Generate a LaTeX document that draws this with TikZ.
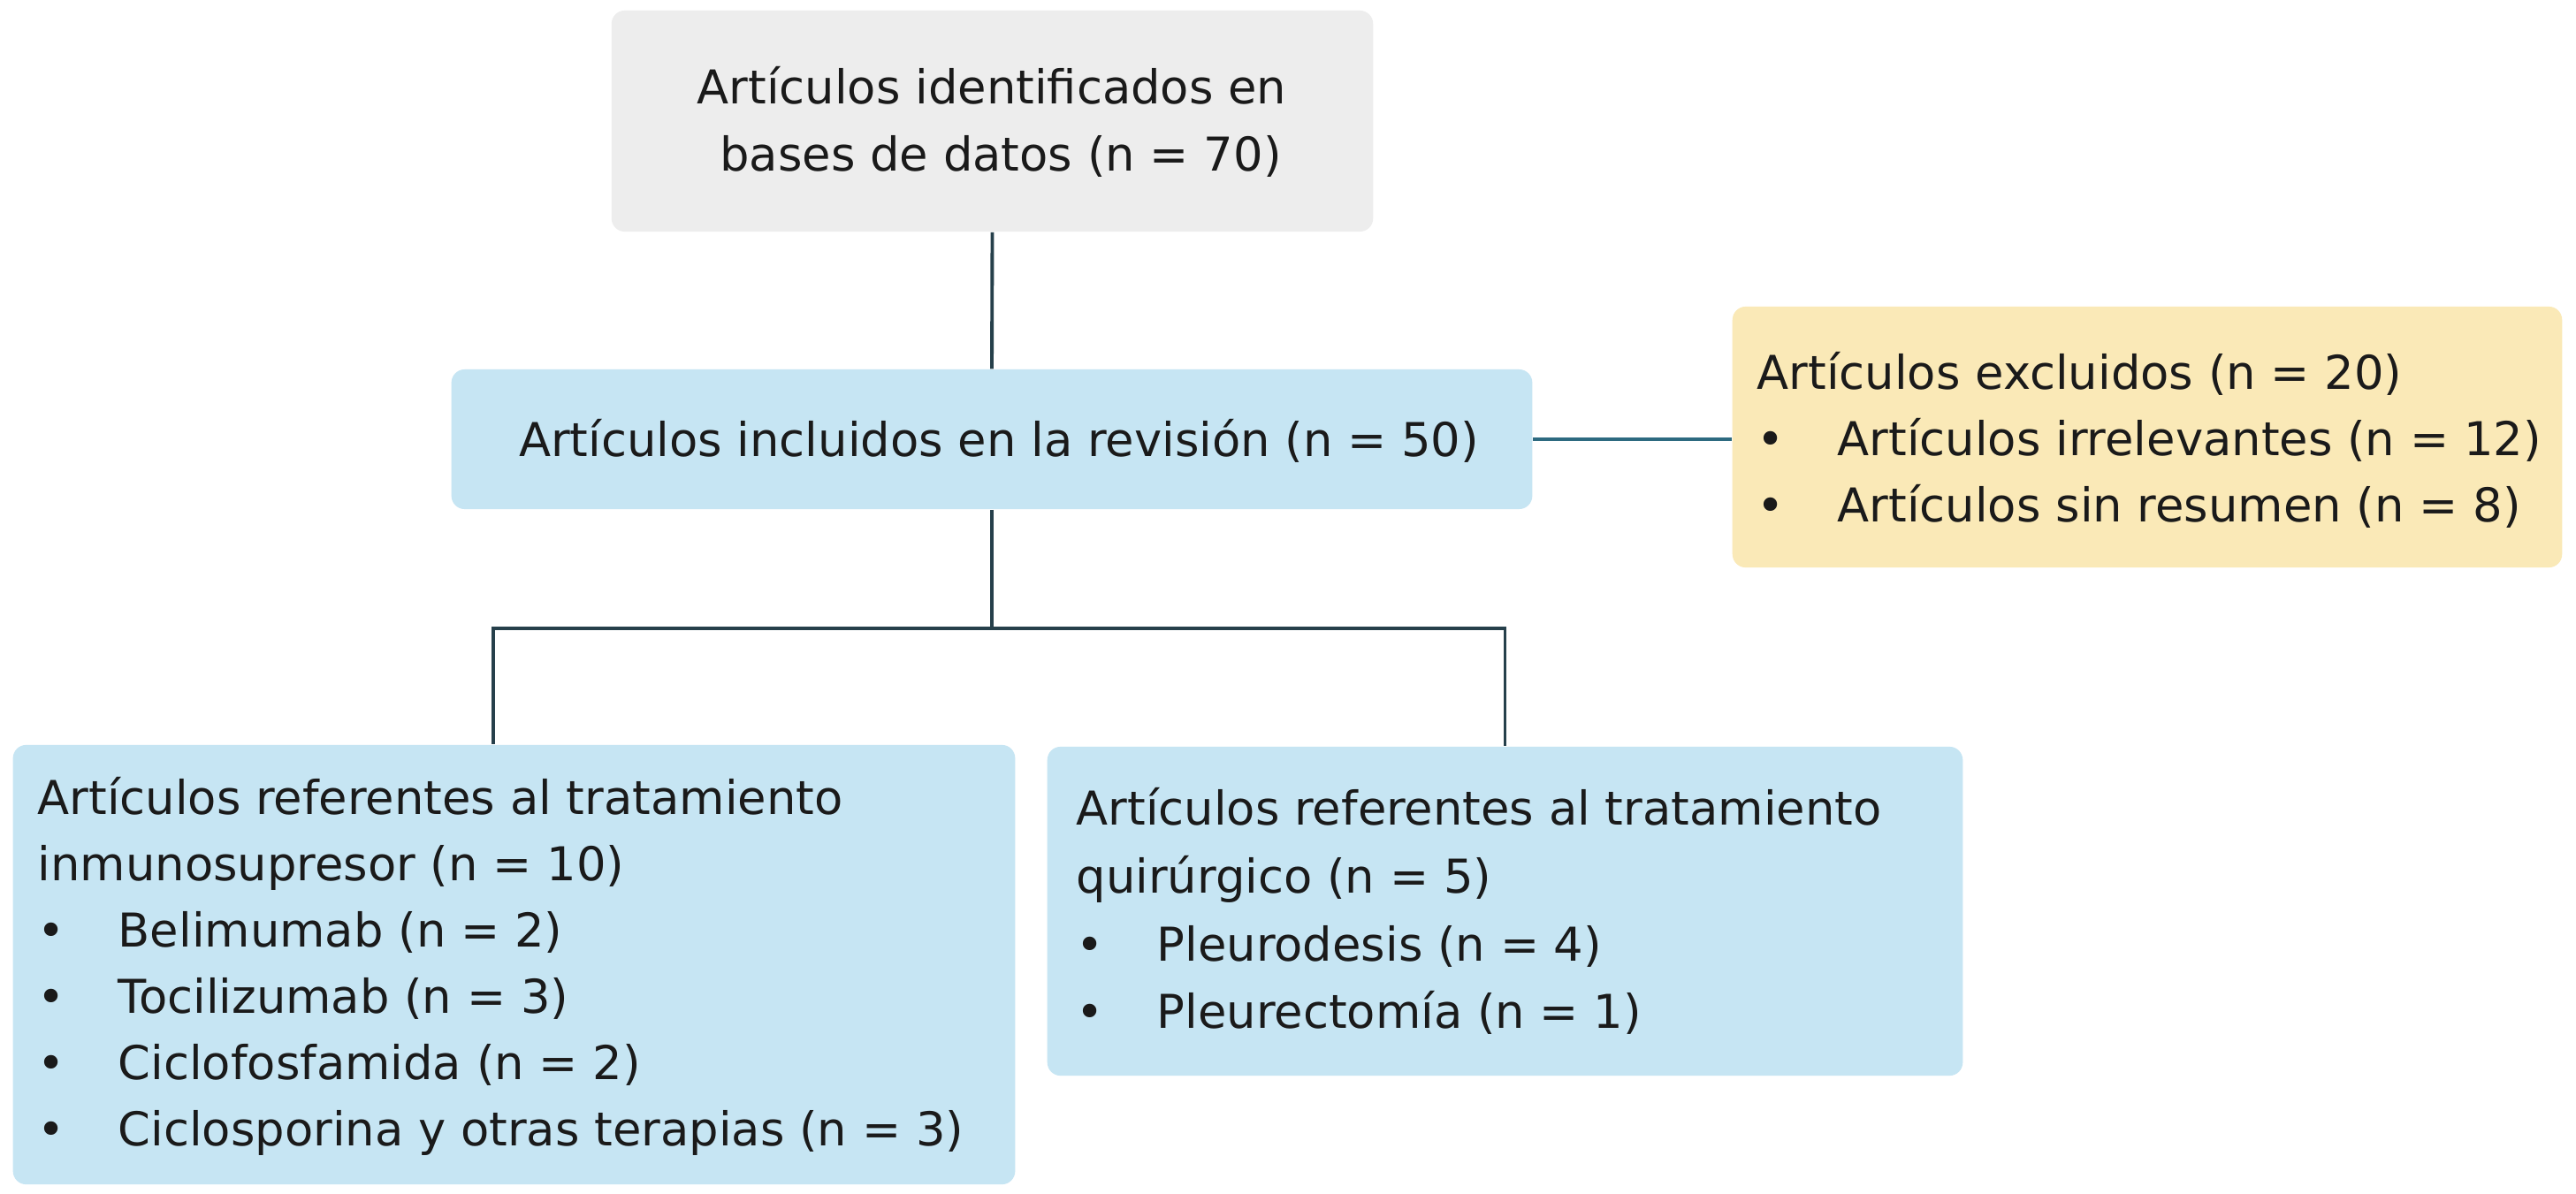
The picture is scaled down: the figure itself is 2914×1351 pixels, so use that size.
\documentclass[tikz,border=0pt]{standalone}
\usepackage{fontspec}
\setmainfont{DejaVu Sans}
\definecolor{grayf}{HTML}{EDEDED}
\definecolor{bluef}{HTML}{C6E5F3}
\definecolor{yelf}{HTML}{FAE9B7}
\definecolor{lc}{HTML}{26404B}
\definecolor{lc2}{HTML}{2D6A80}
\definecolor{ink}{HTML}{1A1A1A}
\newcommand\bul{\makebox[0.91cm][l]{•}}
\begin{document}
\begin{tikzpicture}[x=0.01cm, y=-0.01cm,
  box/.style={rectangle, rounded corners=0.15cm, inner sep=0pt, draw=none},
  txt/.style={inner sep=0pt, text=ink, font=\fontsize{15}{18}\selectfont},
  conn/.style={draw=lc, line width=1.1pt},
  conn2/.style={draw=lc2, line width=1.2pt}]
\useasboundingbox[fill=white] (0,0) rectangle (2914,1351);
% boxes
\node[box, fill=grayf, minimum width=8.61cm, minimum height=2.5cm] (top) at (1122.5,137) {};
\node[box, fill=bluef, minimum width=12.22cm, minimum height=1.58cm] (inc) at (1122,497) {};
\node[box, fill=yelf, minimum width=9.38cm, minimum height=2.95cm] (exc) at (2429,494.5) {};
\node[box, fill=bluef, minimum width=11.33cm, minimum height=4.97cm] (lft) at (581.5,1091.5) {};
\node[box, fill=bluef, minimum width=10.35cm, minimum height=3.72cm] (rgt) at (1702.5,1031) {};
% connectors
\draw[conn] (top.south) -- (inc.north);
\draw[conn2] (inc.east) -- (inc.east -| exc.west);
\coordinate (j) at ([yshift=-1.34cm]inc.south);
\draw[conn] (inc.south) -- (j);
\draw[conn] ([xshift=-0.235cm]lft.north) |- (j) -| (rgt.north);
% texts
\node[txt, anchor=base] (t1) at (1122,117) {Artículos identificados en};
\node[txt, anchor=base] (t2) at (1132,193) {bases de datos (n = 70)};
\node[txt, anchor=base] (i1) at (1130,516) {Artículos incluidos en la revisión (n = 50)};
\node[txt, anchor=base west] (e1) at (1987,440) {Artículos excluidos (n = 20)};
\node[txt, anchor=base west] (e2) at (1987,515) {\bul Artículos irrelevantes (n = 12)};
\node[txt, anchor=base west] (e3) at (1987,590) {\bul Artículos sin resumen (n = 8)};
\node[txt, anchor=base west] (l1) at (42,921) {Artículos referentes al tratamiento};
\node[txt, anchor=base west] (l2) at (42,996) {inmunosupresor (n = 10)};
\node[txt, anchor=base west] (l3) at (42,1071) {\bul Belimumab (n = 2)};
\node[txt, anchor=base west] (l4) at (42,1146) {\bul Tocilizumab (n = 3)};
\node[txt, anchor=base west] (l5) at (42,1221) {\bul Ciclofosfamida (n = 2)};
\node[txt, anchor=base west] (l6) at (42,1296) {\bul Ciclosporina y otras terapias (n = 3)};
\node[txt, anchor=base west] (r1) at (1217,933) {Artículos referentes al tratamiento};
\node[txt, anchor=base west] (r2) at (1217,1010) {quirúrgico (n = 5)};
\node[txt, anchor=base west] (r3) at (1217,1087) {\bul Pleurodesis (n = 4)};
\node[txt, anchor=base west] (r4) at (1217,1163) {\bul Pleurectomía (n = 1)};
\end{tikzpicture}
\end{document}
